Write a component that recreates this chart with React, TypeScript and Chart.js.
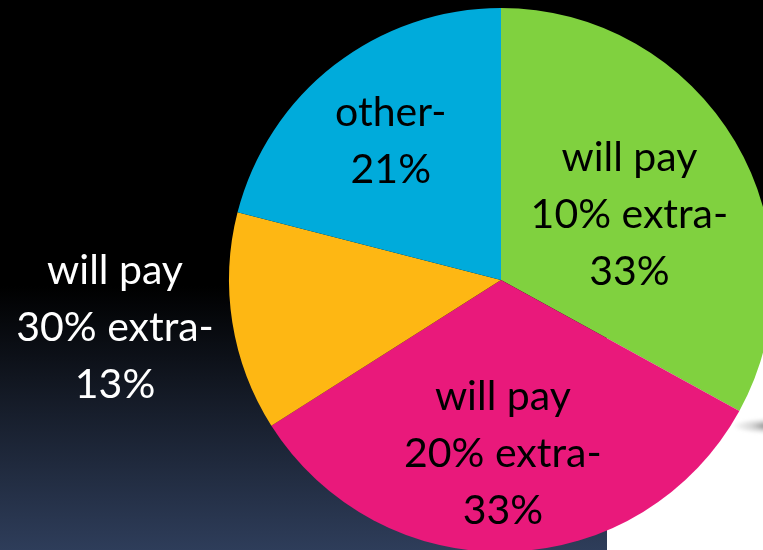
import React, { useEffect, useRef } from "react";
import { Chart, registerables } from "chart.js";

Chart.register(...registerables);

// Survey answers: how much extra people are willing to pay
const categoryLines: string[][] = [
  ["will pay", "10% extra-"],
  ["will pay", "20% extra-"],
  ["will pay", "30% extra-"],
  ["other-"],
];
const shares: number[] = [33, 33, 13, 21];
const sliceColors: string[] = ["#80d13f", "#e9197b", "#feb713", "#00abdb"];
const labelColors: string[] = ["#000000", "#000000", "#ffffff", "#000000"];
// where each label block sits: fraction of the slice's sweep, and of the radius
const labelSweep: number[] = [0.53, 0.51, 0.54, 0.49];
const labelRadius: number[] = [0.53, 0.64, 1.43, 0.65];

const FONT = "41px Lato, 'Open Sans', sans-serif";
const LINE_HEIGHT = 57;

const sliceLabels = {
  id: "sliceLabels",
  afterDatasetsDraw(chart: Chart) {
    const ctx = chart.ctx;
    const meta = chart.getDatasetMeta(0);
    ctx.save();
    ctx.font = FONT;
    ctx.textAlign = "center";
    ctx.textBaseline = "middle";
    meta.data.forEach((el: any, i: number) => {
      const { x, y, startAngle, endAngle, outerRadius } = el.getProps(
        ["x", "y", "startAngle", "endAngle", "outerRadius"],
        true
      );
      const angle = startAngle + (endAngle - startAngle) * labelSweep[i];
      const r = outerRadius * labelRadius[i];
      const cx = x + Math.cos(angle) * r;
      const cy = y + Math.sin(angle) * r;
      const lines = [...categoryLines[i], `${shares[i]}%`];
      const top = cy - ((lines.length - 1) * LINE_HEIGHT) / 2;
      ctx.fillStyle = labelColors[i];
      lines.forEach((line, k) => ctx.fillText(line, cx, top + k * LINE_HEIGHT));
    });
    ctx.restore();
  },
};

export default function App() {
  const canvasRef = useRef<HTMLCanvasElement | null>(null);

  useEffect(() => {
    if (!canvasRef.current) return;
    const chart = new Chart(canvasRef.current, {
      type: "pie",
      data: {
        labels: categoryLines.map((l) => l.join(" ")),
        datasets: [
          {
            data: shares,
            backgroundColor: sliceColors,
            borderWidth: 0,
            hoverOffset: 0,
          },
        ],
      },
      options: {
        responsive: false,
        animation: false,
        layout: { padding: { left: 229, top: 8, right: 0, bottom: 0 } },
        plugins: {
          legend: { display: false },
          tooltip: { enabled: false },
        },
      },
      plugins: [sliceLabels],
    });
    return () => chart.destroy();
  }, []);

  return (
    <div
      style={{
        position: "absolute",
        left: 0,
        top: 0,
        width: 763,
        height: 550,
        overflow: "hidden",
        background:
          "linear-gradient(to bottom, #000000 0%, #000000 52%, #141a26 72%, #2e3d5a 100%)",
      }}
    >
      <div
        style={{
          position: "absolute",
          left: 607,
          top: 300,
          width: 156,
          height: 250,
          background: "#ffffff",
        }}
      />
      <div
        style={{
          position: "absolute",
          left: 735,
          top: 418,
          width: 50,
          height: 16,
          background:
            "radial-gradient(ellipse at 90% 50%, rgba(50,50,50,0.85) 0%, rgba(120,120,120,0.3) 45%, rgba(255,255,255,0) 75%)",
          filter: "blur(1.5px)",
        }}
      />
      <canvas
        ref={canvasRef}
        width={773}
        height={552}
        style={{ position: "absolute", left: 0, top: 0 }}
      />
    </div>
  );
}
